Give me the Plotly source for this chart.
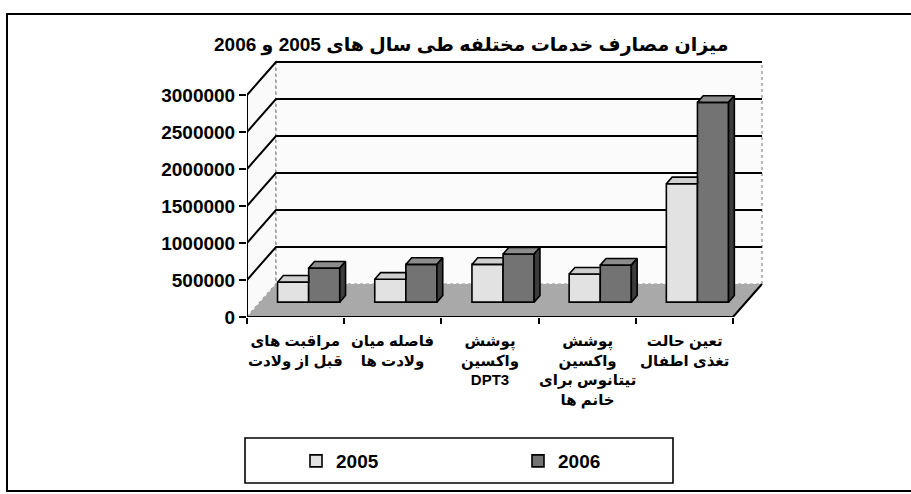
import plotly.graph_objects as go

# ---- data -------------------------------------------------------------
categories = [
    "مراقبت های<br>قبل از ولادت",
    "فاصله میان<br>ولادت ها",
    "پوشش<br>واکسین<br>DPT3",
    "پوشش<br>واکسین<br>تیتانوس برای<br>خانم ها",
    "تعین حالت<br>تغذی اطفال",
]
series_names = ["2005", "2006"]
values_2005 = [270000, 310000, 510000, 380000, 1600000]
values_2006 = [460000, 510000, 650000, 500000, 2700000]
y_ticks = [0, 500000, 1000000, 1500000, 2000000, 2500000, 3000000]
title_text = "میزان مصارف خدمات مختلفه طی سال های 2005 و 2006"

# ---- geometry / style ---------------------------------------------------
W, H = 911, 494
ML, MR, MT, MB = 247, 121, 55, 177
PW, PH = W - ML - MR, H - MT - MB
PX_PER_CAT = 97.2
PX_PER_VAL = 74e-6
X_MAX = PW / PX_PER_CAT
Y_MAX = PH / PX_PER_VAL

DX = 29 / PX_PER_CAT          # depth of the chart box along x (data units)
DY = 33 / PX_PER_VAL          # depth of the chart box along y (data units)
F0, F1 = 0.45, 0.65           # front / back of the columns as fraction of depth
BAR_W = 0.32
TOP_VAL = y_ticks[-1]
N = len(categories)

FONT = "Liberation Sans, Arial, DejaVu Sans"
colors = {
    "2005": dict(front="#e2e2e2", top="#cfcfcf", side="#9a9a9a"),
    "2006": dict(front="#737373", top="#8c8c8c", side="#3c3c3c"),
}


def px_x(p):
    return (p - ML) / PW


def px_y(p):
    return (H - MB - p) / PH


def path(points):
    return "M " + " L ".join(f"{x},{y}" for x, y in points) + " Z"


fig = go.Figure()

# front faces of the columns
bx0 = F0 * DX
by0 = F0 * DY
series = [values_2005, values_2006]
offsets = [-BAR_W / 2, BAR_W / 2]
for name, vals, off in zip(series_names, series, offsets):
    fig.add_trace(go.Bar(
        x=[i + 0.5 + off + bx0 for i in range(N)],
        y=vals,
        base=[by0] * N,
        width=BAR_W,
        name=name,
        marker=dict(color=colors[name]["front"],
                    line=dict(color="black", width=1.6)),
        hoverinfo="skip",
    ))

# top and side faces of the columns
ddx = (F1 - F0) * DX
ddy = (F1 - F0) * DY
for i in range(N):
    for k, (name, vals, off) in enumerate(zip(series_names, series, offsets)):
        v = vals[i]
        xl = i + 0.5 + off + bx0 - BAR_W / 2
        xr = xl + BAR_W
        t = by0 + v
        nxt = series[k + 1][i] if k + 1 < len(series) else None
        hidden_right = nxt is not None and nxt >= v + ddy
        if hidden_right:
            top = [(xl, t), (xr, t), (xr, t + ddy), (xl + ddx, t + ddy)]
        else:
            top = [(xl, t), (xr, t), (xr + ddx, t + ddy), (xl + ddx, t + ddy)]
        faces = [(top, colors[name]["top"])]
        if not hidden_right:
            side = [(xr, by0), (xr, t), (xr + ddx, t + ddy), (xr + ddx, by0 + ddy)]
            faces.append((side, colors[name]["side"]))
        for poly, col in faces:
            xs = [p[0] for p in poly] + [poly[0][0]]
            ys = [p[1] for p in poly] + [poly[0][1]]
            fig.add_trace(go.Scatter(
                x=xs, y=ys, mode="lines", fill="toself", fillcolor=col,
                line=dict(color="black", width=1.6), showlegend=False,
                hoverinfo="skip",
            ))

shapes = []
# outer frame
shapes.append(dict(type="rect", xref="paper", yref="paper",
                   x0=px_x(7), x1=px_x(918), y0=px_y(491), y1=px_y(14),
                   line=dict(color="black", width=2), layer="below"))
# walls
dotted = dict(color="#8a8a8a", width=1.2, dash="dot")
shapes.append(dict(type="path", xref="x", yref="y", layer="below",
                   path=path([(0, 0), (DX, DY), (DX, TOP_VAL + DY), (0, TOP_VAL)]),
                   fillcolor="#fafafa", line=dotted))
shapes.append(dict(type="path", xref="x", yref="y", layer="below",
                   path=path([(DX, DY), (N + DX, DY), (N + DX, TOP_VAL + DY), (DX, TOP_VAL + DY)]),
                   fillcolor="#fbfbfb", line=dotted))
# floor
shapes.append(dict(type="path", xref="x", yref="y", layer="below",
                   path=path([(0, 0), (N, 0), (N + DX, DY), (DX, DY)]),
                   fillcolor="#a9a9a9", line=dict(width=0)))
# gridlines on the side and back walls
for v in y_ticks[1:]:
    shapes.append(dict(type="path", xref="x", yref="y", layer="below",
                       path=f"M 0,{v} L {DX},{v + DY} L {N + DX},{v + DY}",
                       line=dict(color="black", width=2)))
# front edges
shapes.append(dict(type="line", xref="x", yref="y", layer="below",
                   x0=0, y0=0, x1=0, y1=TOP_VAL, line=dict(color="black", width=2)))
shapes.append(dict(type="path", xref="x", yref="y", layer="below",
                   path=f"M 0,0 L {N},0 L {N + DX},{DY}",
                   line=dict(color="black", width=2)))
# legend frame
shapes.append(dict(type="rect", xref="paper", yref="paper",
                   x0=px_x(245), x1=px_x(673), y0=px_y(483), y1=px_y(438),
                   line=dict(color="black", width=1.6), fillcolor="white", layer="below"))

annotations = [dict(
    text=title_text, xref="paper", yref="paper", x=px_x(471), y=px_y(45),
    xanchor="center", yanchor="middle", showarrow=False,
    font=dict(family=FONT, size=19, color="black", weight="bold"),
)]
for i, c in enumerate(categories):
    annotations.append(dict(
        text=c, xref="x", yref="paper", x=i + 0.5, y=0, yshift=-13,
        xanchor="center", yanchor="top", align="center", showarrow=False,
        font=dict(family=FONT, size=15, color="black", weight="bold"),
    ))

fig.update_layout(
    width=W, height=H,
    margin=dict(l=ML, r=MR, t=MT, b=MB, pad=0),
    paper_bgcolor="white", plot_bgcolor="rgba(0,0,0,0)",
    barmode="overlay",
    showlegend=True,
    legend=dict(orientation="h", x=px_x(296), y=px_y(461), xanchor="left",
                yanchor="middle", entrywidth=177, entrywidthmode="pixels",
                bgcolor="rgba(0,0,0,0)", borderwidth=0,
                font=dict(family=FONT, size=19, color="black", weight="bold")),
    xaxis=dict(range=[0, X_MAX], showgrid=False, zeroline=False, showline=False,
               tickvals=list(range(N + 1)), showticklabels=False,
               ticks="outside", ticklen=6, tickwidth=2, tickcolor="black",
               fixedrange=True),
    yaxis=dict(range=[0, Y_MAX], showgrid=False, zeroline=False, showline=False,
               tickvals=y_ticks, ticktext=[str(v) for v in y_ticks],
               ticks="outside", ticklen=7, tickwidth=2, tickcolor="black",
               tickfont=dict(family=FONT, size=19, color="black", weight="bold"),
               fixedrange=True),
    shapes=shapes,
    annotations=annotations,
)

fig.write_html("out.html")
